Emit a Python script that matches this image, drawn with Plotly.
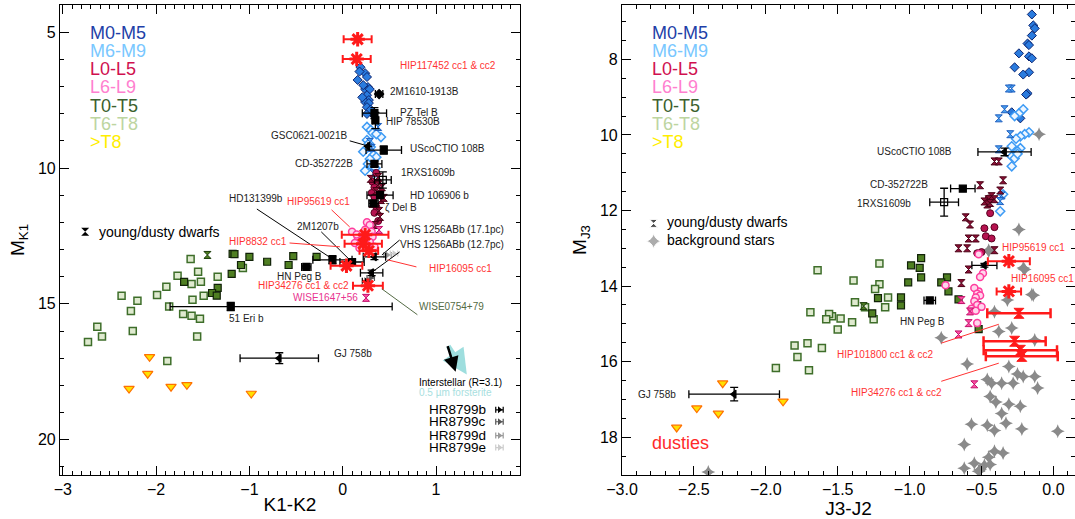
import plotly.graph_objects as go

# ---------------- left panel (K1-K2 vs M_K1) ----------------
km05_x = [0.19, 0.24, 0.16, 0.26, 0.27, 0.24, 0.29, 0.26, 0.28, 0.24, 0.28, 0.26, 0.33, 0.26, 0.22, 0.30, 0.18, 0.21]
km05_y = [6.29, 6.51, 6.76, 6.65, 7.02, 7.10, 7.10, 7.32, 7.50, 7.57, 7.61, 7.76, 8.05, 8.01, 6.95, 7.85, 6.45, 7.4]
km69_x = [0.26, 0.30, 0.32, 0.41, 0.36, 0.26, 0.30, 0.33, 0.36, 0.29, 0.27, 0.32, 0.35, 0.22, 0.28, 0.24]
km69_y = [8.49, 8.60, 8.71, 8.86, 8.75, 8.97, 9.23, 9.52, 9.60, 9.67, 9.85, 9.96, 10.0, 9.4, 9.1, 10.1]
km69y_x = [0.38, 0.29, 0.31, 0.33]
km69y_y = [8.49, 9.04, 9.26, 10.2]
kl05_x = [0.36, 0.32, 0.34, 0.31, 0.34, 0.36, 0.34, 0.38]
kl05_y = [10.18, 10.51, 10.71, 10.92, 11.07, 11.43, 11.65, 11.95]
kl05y_x = [0.38, 0.38, 0.42, 0.36, 0.41, 0.41, 0.32, 0.39, 0.40, 0.30, 0.44, 0.35]
kl05y_y = [10.33, 10.62, 10.71, 10.85, 10.96, 11.18, 11.32, 11.58, 11.8, 10.4, 11.1, 12.1]
kl69_x = [0.10, 0.26, 0.29, 0.24, 0.31, 0.16, 0.32, 0.20, 0.29, 0.13, 0.26, 0.18, 0.34, 0.22, 0.15]
kl69_y = [12.35, 12.0, 12.1, 12.27, 12.35, 12.53, 12.53, 12.72, 12.72, 12.76, 12.83, 12.94, 12.9, 12.6, 12.45]
kl69y_x = [0.39, 0.25]
kl69y_y = [12.28, 14.78]
kt05_x = [-1.18, -1.00, -0.81, -0.53, -0.58, -1.19, -1.09, -1.70, -1.34, -1.40, -1.35, -0.28, -1.16]
kt05_y = [13.16, 13.27, 13.45, 13.24, 13.57, 13.90, 13.57, 14.19, 14.41, 14.60, 14.70, 13.27, 13.17]
kt05y_x = [-1.45]
kt05y_y = [13.2]
kt68_x = [-1.63, -1.55, -1.77, -1.62, -1.52, -1.34, -1.07, -1.89, -1.99, -2.37, -2.20, -2.27,
          -1.61, -1.49, -1.86, -1.71, -1.62, -1.53, -2.63, -2.58, -2.73, -2.25, -1.56, -1.88]
kt68_y = [13.35, 13.82, 13.97, 14.27, 14.19, 14.0, 13.68, 14.37, 14.67, 14.7, 14.89, 15.26,
          14.85, 14.7, 15.1, 15.37, 15.44, 15.55, 15.84, 16.2, 16.4, 16.0, 16.2, 17.1]
ky_x = [-2.07, -2.09, -2.29, -1.84, -1.67, -0.98]
ky_y = [16.95, 17.57, 18.12, 18.05, 17.98, 18.3]

kred_x = [0.16, 0.15, 0.24, 0.22, 0.28, 0.04, 0.27]
kred_y = [5.26, 5.99, 12.46, 12.79, 13.05, 13.6, 14.33]
kred_xerr = [0.15, 0.15, 0.25, 0.2, 0.1, 0.17, 0.16]

kblk_x = [0.39, 0.34, 0.35, 0.27, 0.44, 0.34, 0.43, 0.40, 0.33, -0.11, 0.10, -0.39, 0.34, 0.31, -0.68, -1.20]
kblk_y = [7.28, 7.98, 8.25, 9.2, 9.34, 9.85, 10.44, 11.0, 11.3, 13.38, 13.46, 13.64, 13.27, 13.86, 17.0, 15.1]
kblk_xp = [0.04, 0.13, 0.03, 0.0, 0.19, 0.08, 0.09, 0.14, 0.05, 0.21, 0.13, 0.05, 0.12, 0.12, 0.42, 1.73]
kblk_xm = [0.04, 0.13, 0.03, 0.0, 0.19, 0.08, 0.09, 0.14, 0.05, 0.21, 0.13, 0.05, 0.12, 0.12, 0.42, 0.65]
kblk_ye = [0.0, 0.2, 0.3, 0.0, 0.15, 0.1, 0.3, 0.1, 0.1, 0.15, 0.1, 0.05, 0.1, 0.1, 0.2, 0.15]
kblk_sym = ['diamond', 'square', 'square', 'triangle-left', 'square', 'square', 'square-open', 'square',
            'square', 'square', 'square', 'square', 'triangle-left', 'triangle-left', 'triangle-left', 'square']

hr_names = ['HR8799b', 'HR8799c', 'HR8799d', 'HR8799e']
hr_colors = ['black', '#555555', '#999999', '#cccccc']
hr_x = [0.25, 0.30, 0.48, 0.55]
hr_y = [14.15, 14.05, 13.2, 13.15]
hr_key_x = [1.68, 1.68, 1.68, 1.68]
hr_key_y = [18.9, 19.34, 19.85, 20.29]

arrow_tail = (1.12, 16.5)
arrow_ism = (1.21, 17.5)
arrow_for = (1.33, 17.6)

k_labels = [
    ('HIP117452 cc1 & cc2', 0.59, 6.21, 'left', '#ff3333'),
    ('2M1610-1913B', 0.48, 7.2, 'left', '#222222'),
    ('PZ Tel B', 0.59, 7.95, 'left', '#222222'),
    ('HIP 78530B', 0.44, 8.27, 'left', '#222222'),
    ('GSC0621-0021B', 0.065, 8.79, 'right', '#222222'),
    ('UScoCTIO 108B', 0.70, 9.27, 'left', '#222222'),
    ('CD-352722B', 0.13, 9.82, 'right', '#222222'),
    ('1RXS1609b', 0.60, 10.15, 'left', '#222222'),
    ('HD 106906 b', 0.70, 11.0, 'left', '#222222'),
    ('ζ Del B', 0.43, 11.47, 'left', '#222222'),
    ('HD131399b', -1.24, 11.14, 'left', '#222222'),
    ('HIP95619 cc1', -0.62, 11.25, 'left', '#ff3333'),
    ('2M1207b', -0.51, 12.17, 'left', '#222222'),
    ('HIP8832 cc1', -1.24, 12.72, 'left', '#ff3333'),
    ('VHS 1256ABb (17.1pc)', 0.59, 12.28, 'left', '#222222'),
    ('VHS 1256ABb (12.7pc)', 0.59, 12.83, 'left', '#222222'),
    ('HIP16095 cc1', 0.90, 13.71, 'left', '#ff3333'),
    ('HN Peg B', -0.73, 14.0, 'left', '#222222'),
    ('HIP34276 cc1 & cc2', -0.93, 14.34, 'left', '#ff3333'),
    ('WISE1647+56', -0.55, 14.78, 'left', '#e8338f'),
    ('WISE0754+79', 0.80, 15.1, 'left', '#556b45'),
    ('51 Eri b', -1.24, 15.55, 'left', '#222222'),
    ('GJ 758b', -0.12, 16.84, 'left', '#222222'),
]
k_leaders = [
    (0.075, 9.0, 0.27, 9.19, 'black'),
    (-0.92, 11.51, -0.11, 13.35, 'black'),
    (-0.12, 11.54, 0.075, 12.17, '#ff3333'),
    (-0.23, 12.35, 0.075, 13.38, 'black'),
    (-0.57, 12.76, -0.03, 12.9, '#ff3333'),
    (0.61, 12.65, 0.42, 13.2, 'black'),
    (0.61, 13.09, 0.32, 13.82, 'black'),
    (0.79, 13.64, 0.48, 13.38, '#ff3333'),
    (0.80, 15.4, 0.42, 14.45, '#556b45'),
]

# ---------------- right panel (J3-J2 vs M_J3) ----------------
jm05_x = [-0.15, -0.14, -0.13, -0.15, -0.18, -0.17, -0.24, -0.17, -0.15, -0.27, -0.17, -0.21, -0.18, -0.19, -0.29, -0.23]
jm05_y = [6.81, 7.10, 7.18, 7.37, 7.58, 7.62, 7.84, 7.92, 7.97, 8.21, 8.34, 8.40, 8.90, 8.93, 9.40, 9.56]
jm69_x = [-0.21, -0.24, -0.27, -0.17, -0.20, -0.23, -0.26, -0.29, -0.23, -0.25, -0.29, -0.27, -0.25, -0.29, -0.35, -0.37]
jm69_y = [9.32, 9.43, 9.50, 9.93, 9.98, 10.04, 10.1, 10.3, 10.35, 10.43, 10.57, 10.62, 10.5, 10.83, 11.57, 12.02]
jm69y_x = [-0.29, -0.31, -0.34, -0.38, -0.30, -0.38, -0.36, -0.37]
jm69y_y = [8.77, 8.77, 9.32, 9.56, 9.98, 10.38, 11.6, 11.75]
jl05y_x = [-0.41, -0.38, -0.35, -0.51, -0.37, -0.43, -0.45, -0.48, -0.46, -0.41, -0.44, -0.61, -0.58, -0.59,
           -0.54, -0.66, -0.60, -0.41, -0.59, -0.64]
jl05y_y = [10.70, 10.70, 11.20, 11.33, 11.47, 11.62, 11.70, 11.76, 11.84, 11.70, 11.80, 12.18, 12.37, 12.74,
           12.74, 13.0, 13.0, 13.05, 13.56, 13.92]
jl05_x = [-0.44, -0.48, -0.41, -0.47, -0.43, -0.45, -0.53, -0.50]
jl05_y = [12.07, 12.47, 12.44, 12.68, 12.74, 11.68, 13.13, 13.1]
jl69_x = [-0.52, -0.49, -0.51, -0.52, -0.55, -0.53, -0.51, -0.54, -0.55, -0.53, -0.57, -0.54, -0.50, -0.53, -0.75]
jl69_y = [13.16, 13.66, 13.76, 14.14, 14.05, 14.2, 14.25, 14.3, 14.4, 14.5, 14.6, 14.65, 14.55, 14.98, 13.98]
jl69y_x = [-0.58, -0.59, -0.66, -0.55, -0.64]
jl69y_y = [14.67, 14.98, 15.28, 16.6, 14.37]
jt05_x = [-0.92, -0.99, -0.93, -0.92, -0.74, -1.01, -0.78, -0.73, -1.06, -1.22, -1.06, -0.66, -1.26, -0.53, -0.52]
jt05_y = [13.26, 13.45, 13.52, 13.77, 13.77, 13.9, 13.9, 14.14, 14.3, 14.32, 14.51, 14.35, 14.72, 14.51, 15.14]
jt05y_x = [-1.32]
jt05y_y = [14.53]
jt68_x = [-1.21, -1.39, -1.21, -1.24, -1.15, -1.38, -1.31, -1.17, -1.48, -1.40, -1.25, -1.54, -1.50, -1.64,
          -1.69, -1.56, -1.58, -1.80, -1.71, -1.78, -1.61, -1.70, -1.93]
jt68_y = [13.4, 13.85, 13.95, 14.08, 14.3, 14.43, 14.56, 14.56, 14.86, 14.96, 14.88, 14.8, 15.15, 13.58,
          14.69, 14.74, 14.88, 15.57, 15.51, 15.88, 15.64, 16.23, 16.17]
jy_x = [-2.30, -2.48, -2.33, -2.62, -1.88]
jy_y = [16.57, 17.23, 17.37, 17.74, 17.05]
jbg_x = [-0.10, -0.24, -0.45, -0.45, -0.21, -0.15, -0.32, -0.41, -0.29, -0.13, -0.78, -0.60, -0.31, -0.25,
         -0.21, -0.13, -0.46, -0.43, -0.36, -0.28, -0.11, -0.44, -0.40, -0.31, -0.23, -0.36, -0.57, -0.46,
         -0.33, -0.41, -0.22, 0.03, -0.62, -0.41, -0.35, -0.45, -0.55, -0.48, -0.44, -0.62, -0.51, -0.52,
         -2.40, -0.20, -0.14, -0.38]
jbg_y = [9.98, 12.5, 13.05, 13.08, 13.52, 14.22, 14.37, 14.68, 15.11, 15.43, 15.37, 16.06, 16.13, 16.33,
         16.39, 16.39, 16.47, 16.57, 16.57, 16.57, 16.7, 16.92, 17.07, 17.13, 17.18, 17.37, 17.66, 17.68,
         17.63, 17.82, 17.78, 17.84, 18.19, 18.37, 18.42, 18.53, 18.69, 18.74, 18.72, 18.82, 18.86, 18.9,
         18.92, 13.56, 14.24, 15.2]

jred_x = [-0.31, -0.31]
jred_y = [13.34, 14.14]
jred_xerr = [0.146, 0.085]
jredh_x = [-0.24, -0.27, -0.23, -0.22]
jredh_y = [14.72, 15.46, 15.7, 15.86]
jredh_xerr = [0.22, 0.216, 0.255, 0.25]

jblk_x = [-0.34, -0.63, -0.76, -0.48, -0.86, -2.22]
jblk_y = [10.45, 11.42, 11.78, 13.45, 14.38, 16.86]
jblk_xerr = [0.185, 0.085, 0.1, 0.087, 0.04, 0.315]
jblk_yerr = [0.1, 0.0, 0.37, 0.05, 0.0, 0.18]
jblk_sym = ['triangle-left', 'square', 'square-open', 'triangle-left', 'square', 'triangle-left']

j_labels = [
    ('UScoCTIO 108B', -1.24, 10.43, '#222222'),
    ('CD-352722B', -1.29, 11.31, '#222222'),
    ('1RXS1609b', -1.38, 11.81, '#222222'),
    ('HIP95619 cc1', -0.37, 12.97, '#ff3333'),
    ('HIP16095 cc1', -0.31, 13.79, '#ff3333'),
    ('HN Peg B', -1.08, 14.93, '#222222'),
    ('HIP101800 cc1 & cc2', -1.52, 15.8, '#ff3333'),
    ('HIP34276 cc1 & cc2', -1.42, 16.81, '#ff3333'),
    ('GJ 758b', -2.90, 16.86, '#222222'),
]
j_leaders = [
    (-0.78, 15.51, -0.38, 15.01),
    (-0.78, 16.52, -0.38, 16.04),
]

legend_names = ['M0-M5', 'M6-M9', 'L0-L5', 'L6-L9', 'T0-T5', 'T6-T8', '>T8']
legend_colors = ['#1e3fa8', '#79c7ff', '#d0104f', '#ff80cf', '#3b5f2e', '#bdd5a0', '#ffee00']

FONT = 'Liberation Sans, Arial, sans-serif'

fig = go.Figure()


def pts(x, y, ax, symbol, fill, edge, size=7, lw=1.0):
    fig.add_trace(go.Scatter(
        x=x, y=y, xaxis=ax[0], yaxis=ax[1], mode='markers',
        marker=dict(symbol=symbol, size=size, color=fill, line=dict(color=edge, width=lw))))


L = ('x', 'y')
R = ('x2', 'y2')

for ax, d in [(L, dict(m05=(km05_x, km05_y), m69=(km69_x, km69_y), m69y=(km69y_x, km69y_y),
                        l05=(kl05_x, kl05_y), l05y=(kl05y_x, kl05y_y), l69=(kl69_x, kl69_y),
                        l69y=(kl69y_x, kl69y_y), t05=(kt05_x, kt05_y), t05y=(kt05y_x, kt05y_y),
                        t68=(kt68_x, kt68_y), y=(ky_x, ky_y))),
              (R, dict(m05=(jm05_x, jm05_y), m69=(jm69_x, jm69_y), m69y=(jm69y_x, jm69y_y),
                       l05=(jl05_x, jl05_y), l05y=(jl05y_x, jl05y_y), l69=(jl69_x, jl69_y),
                       l69y=(jl69y_x, jl69y_y), t05=(jt05_x, jt05_y), t05y=(jt05y_x, jt05y_y),
                       t68=(jt68_x, jt68_y), y=(jy_x, jy_y)))]:
    if ax == R:
        pts(jbg_x, jbg_y, R, 'star-diamond', '#8a8a8a', '#8a8a8a', 10, 0)
    pts(*d['t68'], ax, 'square', '#dfeacf', '#3e6e2a', 7, 1.5)
    pts(*d['t05'], ax, 'square', '#4f7f22', '#112208', 7, 1.2)
    pts(*d['t05y'], ax, 'hourglass', '#4f7f22', '#1a3a0a', 7, 1)
    pts(*d['y'], ax, 'triangle-down', '#ffe000', '#ff7000', 9, 1.2)
    pts(*d['m05'], ax, 'diamond', '#2a7bde', '#0b2470', 7, 1)
    pts(*d['m69'], ax, 'diamond', '#eef6ff', '#3d9bf5', 7, 1.5)
    pts(*d['m69y'], ax, 'hourglass', '#4aa0f0', '#1f5fbf', 7, 1)
    pts(*d['l05'], ax, 'circle', '#b5124f', '#5a0020', 7, 1)
    pts(*d['l05y'], ax, 'hourglass', '#8a1036', '#4a0015', 7, 1)
    pts(*d['l69'], ax, 'circle', '#ffd6ec', '#ff3d9e', 7, 1.5)
    pts(*d['l69y'], ax, 'hourglass', '#ff4fa6', '#c0106a', 7, 1)

# HR8799 planets (data points and key markers)
for i in range(4):
    for xs, ys in [([hr_x[i]], [hr_y[i]]), ([hr_key_x[i]], [hr_key_y[i]])]:
        fig.add_trace(go.Scatter(
            x=xs, y=ys, mode='markers', xaxis='x', yaxis='y',
            marker=dict(symbol='triangle-right', size=6, color=hr_colors[i]),
            error_x=dict(type='constant', value=0.04, color=hr_colors[i], thickness=1.2, width=3)))

# black labelled companions
fig.add_trace(go.Scatter(
    x=kblk_x, y=kblk_y, mode='markers', xaxis='x', yaxis='y',
    marker=dict(symbol=kblk_sym, size=7, color='black', line=dict(color='black', width=1.2)),
    error_x=dict(type='data', array=kblk_xp, arrayminus=kblk_xm, color='black', thickness=1.3, width=4),
    error_y=dict(type='data', array=kblk_ye, color='black', thickness=1.3, width=4)))
fig.add_trace(go.Scatter(
    x=jblk_x, y=jblk_y, mode='markers', xaxis='x2', yaxis='y2',
    marker=dict(symbol=jblk_sym, size=7, color='black', line=dict(color='black', width=1.2)),
    error_x=dict(type='data', array=jblk_xerr, color='black', thickness=1.3, width=4),
    error_y=dict(type='data', array=jblk_yerr, color='black', thickness=1.3, width=4)))

# red candidate companions
red = '#ff1a1a'
fig.add_trace(go.Scatter(
    x=kred_x, y=kred_y, mode='markers', xaxis='x', yaxis='y',
    marker=dict(symbol='asterisk-open', size=12, color=red, line=dict(color=red, width=3)),
    error_x=dict(type='data', array=kred_xerr, color=red, thickness=2, width=4)))
fig.add_trace(go.Scatter(
    x=jred_x, y=jred_y, mode='markers', xaxis='x2', yaxis='y2',
    marker=dict(symbol='asterisk-open', size=12, color=red, line=dict(color=red, width=3)),
    error_x=dict(type='data', array=jred_xerr, color=red, thickness=2, width=4)))
fig.add_trace(go.Scatter(
    x=jredh_x, y=jredh_y, mode='markers', xaxis='x2', yaxis='y2',
    marker=dict(symbol='hourglass', size=10, color=red, line=dict(color=red, width=1)),
    error_x=dict(type='data', array=jredh_xerr, color=red, thickness=2.5, width=5)))

# key symbols for young dwarfs / background stars
fig.add_trace(go.Scatter(x=[-2.76], y=[12.35], mode='markers', xaxis='x', yaxis='y',
                         marker=dict(symbol='hourglass', size=8, color='black')))
fig.add_trace(go.Scatter(x=[-2.78, -2.78], y=[12.34, 12.81], mode='markers', xaxis='x2', yaxis='y2',
                         marker=dict(symbol=['hourglass', 'star-diamond'], size=[8, 11],
                                     color=['black', '#8a8a8a'])))

ann = []
for txt, x, y, anchor, col in k_labels:
    ann.append(dict(text=txt, x=x, y=y, xref='x', yref='y', xanchor=anchor, yanchor='middle',
                    showarrow=False, font=dict(size=10, color=col, family=FONT)))
for txt, x, y, col in j_labels:
    ann.append(dict(text=txt, x=x, y=y, xref='x2', yref='y2', xanchor='left', yanchor='middle',
                    showarrow=False, font=dict(size=10, color=col, family=FONT)))

for xr, yr in [('x domain', 'y domain'), ('x2 domain', 'y2 domain')]:
    for i, (nm, col) in enumerate(zip(legend_names, legend_colors)):
        ann.append(dict(text=nm, x=0.061, y=0.94 - i * 0.0385, xref=xr, yref=yr, xanchor='left',
                        yanchor='middle', showarrow=False, font=dict(size=18, color=col, family=FONT)))
ann.append(dict(text='young/dusty dwarfs', x=0.08, y=0.517, xref='x domain', yref='y domain',
                xanchor='left', yanchor='middle', showarrow=False, font=dict(size=14, color='black', family=FONT)))
ann.append(dict(text='young/dusty dwarfs', x=0.095, y=0.538, xref='x2 domain', yref='y2 domain',
                xanchor='left', yanchor='middle', showarrow=False, font=dict(size=14, color='black', family=FONT)))
ann.append(dict(text='background stars', x=0.095, y=0.5, xref='x2 domain', yref='y2 domain',
                xanchor='left', yanchor='middle', showarrow=False, font=dict(size=14, color='black', family=FONT)))
ann.append(dict(text='dusties', x=0.062, y=0.068, xref='x2 domain', yref='y2 domain',
                xanchor='left', yanchor='middle', showarrow=False, font=dict(size=18, color='#ff2a2a', family=FONT)))
for i, nm in enumerate(hr_names):
    ann.append(dict(text=nm, x=hr_key_x[i] - 0.12, y=hr_key_y[i], xref='x', yref='y', xanchor='right',
                    yanchor='middle', showarrow=False, font=dict(size=13.5, color='black', family=FONT)))
ann.append(dict(text='Interstellar (R=3.1)', x=0.8, y=17.9, xref='x', yref='y', xanchor='left',
                yanchor='middle', showarrow=False, font=dict(size=10, color='black', family=FONT)))
ann.append(dict(text='0.5 µm forsterite', x=0.8, y=18.27, xref='x', yref='y', xanchor='left',
                yanchor='middle', showarrow=False, font=dict(size=10, color='#a8e0e0', family=FONT)))
# reddening arrows
ann.append(dict(x=arrow_for[0], y=arrow_for[1], ax=arrow_tail[0], ay=arrow_tail[1], xref='x', yref='y',
                axref='x', ayref='y', showarrow=True, arrowhead=2, arrowsize=1, arrowwidth=5,
                arrowcolor='#9edede', text=''))
ann.append(dict(x=arrow_ism[0], y=arrow_ism[1], ax=arrow_tail[0], ay=arrow_tail[1], xref='x', yref='y',
                axref='x', ayref='y', showarrow=True, arrowhead=2, arrowsize=1.2, arrowwidth=2.5,
                arrowcolor='black', text=''))

shapes = []
for x0, y0, x1, y1, col in k_leaders:
    shapes.append(dict(type='line', x0=x0, y0=y0, x1=x1, y1=y1, xref='x', yref='y',
                       line=dict(color=col, width=1)))
for x0, y0, x1, y1 in j_leaders:
    shapes.append(dict(type='line', x0=x0, y0=y0, x1=x1, y1=y1, xref='x2', yref='y2',
                       line=dict(color='#ff3333', width=1)))

axis_style = dict(showline=True, linecolor='black', linewidth=1.2, mirror='allticks', ticks='inside',
                  ticklen=9, tickwidth=1.2, tickcolor='black', showgrid=False, zeroline=False,
                  tickfont=dict(size=16, color='black', family=FONT))
title_font = dict(size=19, color='black', family=FONT)

fig.update_layout(
    width=1075, height=519,
    margin=dict(l=60, r=0, t=5, b=44),
    paper_bgcolor='white', plot_bgcolor='white',
    showlegend=False,
    annotations=ann, shapes=shapes,
    xaxis=dict(domain=[0, 0.4532], range=[-3.03, 1.9], tickvals=[-3, -2, -1, 0, 1],
               minor=dict(dtick=0.1, tick0=0, ticks='inside', ticklen=4, tickcolor='black'),
               title=dict(text='K1-K2', font=title_font, standoff=0), anchor='y', **axis_style),
    yaxis=dict(domain=[0, 1], range=[21.3, 4.0], tickvals=[5, 10, 15, 20],
               minor=dict(dtick=1, tick0=0, ticks='inside', ticklen=4, tickcolor='black'),
               title=dict(text='M<sub>K1</sub>', font=title_font, standoff=8), anchor='x', **axis_style),
    xaxis2=dict(domain=[0.5537, 1], range=[-3.0, 0.15], tickvals=[-3, -2.5, -2, -1.5, -1, -0.5, 0],
                tickformat='.1f',
                minor=dict(dtick=0.1, tick0=0, ticks='inside', ticklen=4, tickcolor='black'),
                title=dict(text='J3-J2', font=title_font, standoff=0), anchor='y2', **axis_style),
    yaxis2=dict(domain=[0, 1], range=[19.0, 6.56], tickvals=[8, 10, 12, 14, 16, 18],
                minor=dict(dtick=0.5, tick0=0, ticks='inside', ticklen=4, tickcolor='black'),
                title=dict(text='M<sub>J3</sub>', font=title_font, standoff=8), anchor='x2', **axis_style),
)

# drop the browser's default page margin so the figure sits at the window origin
fig.write_html('out.html', config={'displayModeBar': False},
               post_script="document.body.style.margin='0px';")
